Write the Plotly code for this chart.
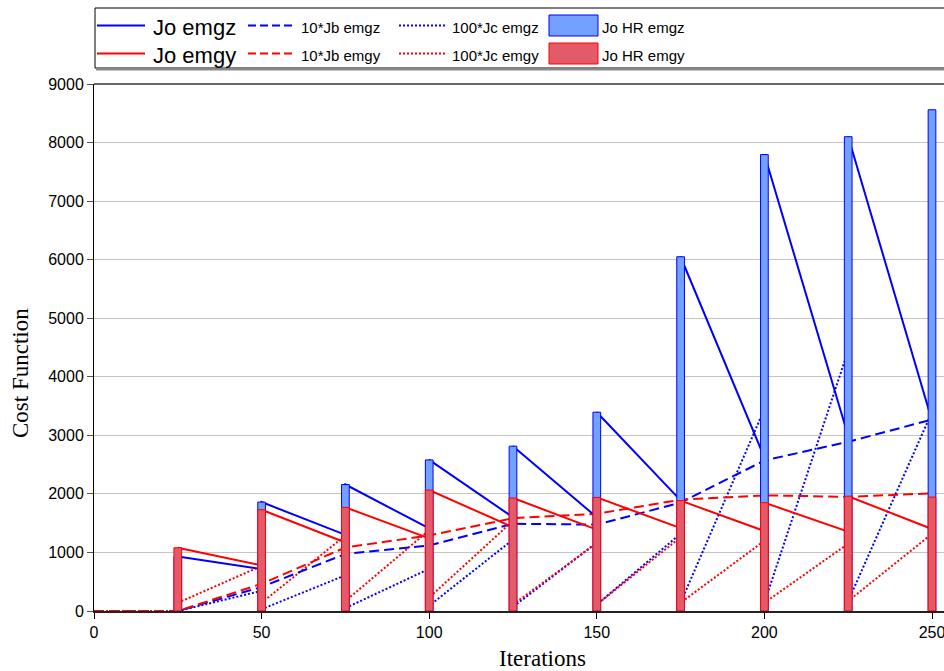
import plotly.graph_objects as go

# ---------------- data ----------------
outer_iters = [25, 50, 75, 100, 125, 150, 175, 200, 225, 250]
jo_hr_emgz = [930, 1860, 2160, 2580, 2815, 3395, 6050, 7795, 8100, 8560]
jo_hr_emgy = [1080, 1730, 1770, 2065, 1930, 1940, 1885, 1850, 1960, 1945]

jo_x = [25, 50, 50, 75, 75, 100, 100, 125, 125, 150, 150, 175, 175, 200, 200, 225, 225, 250]
jo_emgz = [930, 715, 1860, 1300, 2160, 1410, 2580, 1600, 2815, 1600, 3395, 1890, 6050, 2620, 7795, 2990, 8100, 3250]
jo_emgy = [1080, 780, 1730, 1170, 1770, 1240, 2065, 1430, 1930, 1390, 1940, 1415, 1885, 1365, 1850, 1355, 1960, 1400]

jb_x = [0, 25, 50, 75, 100, 125, 150, 175, 200, 225, 250]
jb_emgz = [0, 0, 410, 975, 1120, 1490, 1475, 1850, 2570, 2890, 3270]
jb_emgy = [0, 0, 465, 1085, 1290, 1585, 1660, 1900, 1975, 1950, 2010]

jc_x = [0, 25, 25, 50, 50, 75, 75, 100, 100, 125, 125, 150, 150, 175, 175, 200, 200, 225, 225, 250]
jc_emgz = [0, 0, 0, 345, 30, 610, 50, 720, 90, 1220, 70, 1170, 110, 1320, 140, 3450, 140, 4450, 170, 3400]
jc_emgy = [0, 0, 140, 770, 140, 1290, 170, 1380, 230, 1540, 110, 1160, 110, 1260, 140, 1200, 140, 1150, 170, 1320]

x_ticks = [0, 50, 100, 150, 200, 250]
y_ticks = [0, 1000, 2000, 3000, 4000, 5000, 6000, 7000, 8000, 9000]

names_row1 = ["Jo emgz", "10*Jb emgz", "100*Jc emgz", "Jo HR emgz"]
names_row2 = ["Jo emgy", "10*Jb emgy", "100*Jc emgy", "Jo HR emgy"]

# ---------------- styles ----------------
BLUE = "#0000ff"
RED = "#ff0000"
BLUE_FILL = "#73a1ff"
RED_FILL = "#e35a69"
DASH = "10px,5px"
DOT = "2px,2px"
SANS = "Liberation Sans, Arial, sans-serif"
SERIF = "Liberation Serif, Times New Roman, serif"

W, H = 944, 671
L, R, T, B = 94, 944, 84, 611


def fx(px):
    return (px - L) / (R - L)


def fy(py):
    return (B - py) / (B - T)


fig = go.Figure()

line_traces = [
    (jc_x, jc_emgz, BLUE, DOT, names_row1[2]),
    (jc_x, jc_emgy, RED, DOT, names_row2[2]),
    (jb_x, jb_emgz, BLUE, DASH, names_row1[1]),
    (jb_x, jb_emgy, RED, DASH, names_row2[1]),
    (jo_x, jo_emgz, BLUE, "solid", names_row1[0]),
    (jo_x, jo_emgy, RED, "solid", names_row2[0]),
]
for xs, ys, col, dash, nm in line_traces:
    fig.add_trace(go.Scatter(x=xs, y=ys, mode="lines", name=nm,
                             line=dict(color=col, width=2, dash=dash),
                             xaxis="x", yaxis="y", showlegend=False))

fig.add_trace(go.Bar(x=outer_iters, y=jo_hr_emgz, name=names_row1[3], width=2.3,
                     marker=dict(color=BLUE_FILL, line=dict(color=BLUE, width=1)),
                     xaxis="x2", yaxis="y2", showlegend=False))
fig.add_trace(go.Bar(x=outer_iters, y=jo_hr_emgy, name=names_row2[3], width=2.3,
                     marker=dict(color=RED_FILL, line=dict(color=RED, width=1)),
                     xaxis="x2", yaxis="y2", showlegend=False))

xr = [0, 250 * (R - L) / (932 - L)]
yr = [0, 9000]

shapes = []
annotations = []

# plot top frame line
shapes.append(dict(type="line", xref="paper", yref="paper", x0=0, x1=1, y0=1, y1=1,
                   line=dict(color="#666666", width=2)))

# legend box
shapes.append(dict(type="rect", xref="paper", yref="paper", x0=fx(95), x1=fx(990),
                   y0=fy(68), y1=fy(8), line=dict(color="black", width=1), fillcolor="white"))
shapes.append(dict(type="line", xref="paper", yref="paper", x0=fx(96), x1=fx(990),
                   y0=fy(69.5), y1=fy(69.5), line=dict(color="#8a8a8a", width=2)))

rows = [(25.5, names_row1, BLUE, BLUE_FILL), (53.5, names_row2, RED, RED_FILL)]
for cy, names, col, fill in rows:
    shapes.append(dict(type="line", xref="paper", yref="paper", x0=fx(97), x1=fx(145),
                       y0=fy(cy), y1=fy(cy), line=dict(color=col, width=2)))
    shapes.append(dict(type="line", xref="paper", yref="paper", x0=fx(248), x1=fx(295),
                       y0=fy(cy), y1=fy(cy), line=dict(color=col, width=2, dash="8px,4px")))
    shapes.append(dict(type="line", xref="paper", yref="paper", x0=fx(399), x1=fx(447),
                       y0=fy(cy), y1=fy(cy), line=dict(color=col, width=2, dash=DOT)))
    shapes.append(dict(type="rect", xref="paper", yref="paper", x0=fx(549), x1=fx(598),
                       y0=fy(cy + 10.5), y1=fy(cy - 10.5), line=dict(color=col, width=1),
                       fillcolor=fill))
    for (tx, size), nm in zip([(151, 22), (299, 15), (450, 15), (600, 15)], names):
        annotations.append(dict(x=fx(tx), y=fy(cy + 1.5), xref="paper", yref="paper",
                                text=nm, showarrow=False, xanchor="left", yanchor="middle",
                                font=dict(family=SANS, size=size, color="black")))

annotations.append(dict(x=fx(542), y=fy(658), xref="paper", yref="paper", text="Iterations",
                        showarrow=False, xanchor="center", yanchor="middle",
                        font=dict(family=SERIF, size=23, color="black")))
annotations.append(dict(x=fx(20), y=fy(373), xref="paper", yref="paper", text="Cost Function",
                        showarrow=False, xanchor="center", yanchor="middle", textangle=-90,
                        font=dict(family=SERIF, size=23, color="black")))

fig.update_layout(
    width=W, height=H,
    margin=dict(l=L, r=W - R, t=T, b=H - B, pad=0),
    paper_bgcolor="white", plot_bgcolor="white",
    barmode="overlay",
    showlegend=False,
    xaxis=dict(range=xr, tickvals=x_ticks, ticks="outside", ticklen=6, tickcolor="black",
               showline=True, linecolor="#222222", linewidth=2, showgrid=False, zeroline=False,
               ticklabeloverflow="allow",
               tickfont=dict(family=SANS, size=16, color="black")),
    yaxis=dict(range=yr, tickvals=y_ticks, ticks="outside", ticklen=6, tickcolor="#555555",
               showline=True, linecolor="black", linewidth=1, showgrid=True,
               gridcolor="#c4c4c4", gridwidth=1, zeroline=False,
               tickfont=dict(family=SANS, size=16, color="black")),
    xaxis2=dict(range=xr, overlaying="x", visible=False, showgrid=False),
    yaxis2=dict(range=yr, overlaying="y", visible=False, showgrid=False),
    shapes=shapes,
    annotations=annotations,
)

fig.write_html("out.html")
